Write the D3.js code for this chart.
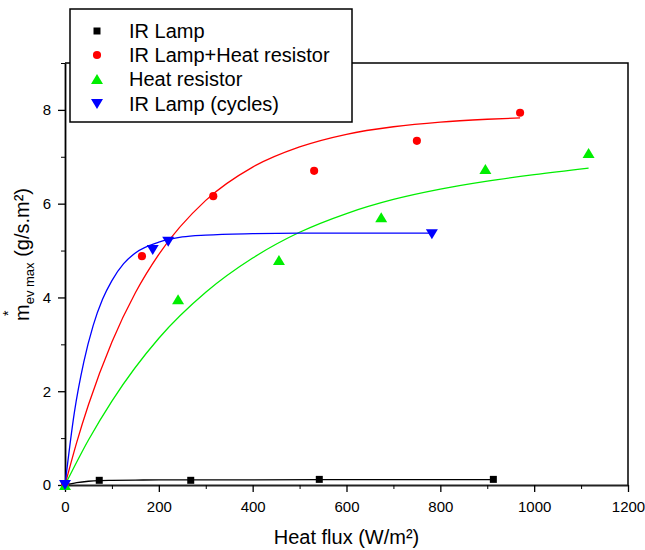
<!DOCTYPE html>
<html lang="en">
<head>
    <meta charset="UTF-8">
    <title>Heat flux vs evaporation rate</title>
    <script src="https://cdnjs.cloudflare.com/ajax/libs/d3/7.8.5/d3.min.js"></script>
    <style>
        body {
            margin: 0;
            background-color: #ffffff;
            font-family: 'Liberation Sans', Arial, sans-serif;
        }
        .tick text {
            font-family: 'Liberation Sans', Arial, sans-serif;
            font-size: 15px;
            fill: #000;
        }
        .fit {
            fill: none;
            stroke-width: 1.3px;
        }
    </style>
</head>
<body>
    <div id="chart"></div>
    <script>
        // measured points
        const irLampX = [0, 73, 268, 542, 913];
        const irLampY = [0, 0.10, 0.10, 0.12, 0.12];
        const irHeatX = [0, 164, 316, 531, 750, 970];
        const irHeatY = [0, 4.88, 6.16, 6.70, 7.34, 7.94];
        const heatResX = [0, 241, 456, 674, 896, 1116];
        const heatResY = [0, 3.96, 4.80, 5.71, 6.74, 7.08];
        const cyclesX = [0, 187, 220, 782];
        const cyclesY = [0, 5.01, 5.19, 5.35];

        // fitted curves
        const irLampFitX = [0, 25, 50, 75, 100, 150, 200, 400, 600, 913];
        const irLampFitY = [0, 0.05, 0.08, 0.095, 0.10, 0.105, 0.11, 0.11, 0.115, 0.115];
        const irHeatFitX = [0, 25, 50, 100, 150, 200, 300, 400, 500, 600, 700, 800, 900, 970];
        const irHeatFitY = [0, 0.91, 1.71, 3.05, 4.10, 4.92, 6.07, 6.78, 7.21, 7.48, 7.64, 7.74, 7.80, 7.83];
        const heatResFitX = [0, 50, 100, 200, 300, 400, 500, 600, 700, 800, 900, 1000, 1116];
        const heatResFitY = [0, 0.96, 1.79, 3.13, 4.11, 4.84, 5.39, 5.79, 6.09, 6.31, 6.48, 6.62, 6.76];
        const cyclesFitX = [0, 20, 40, 60, 80, 100, 125, 150, 200, 250, 300, 400, 500, 782];
        const cyclesFitY = [0, 1.55, 2.62, 3.40, 3.96, 4.36, 4.72, 4.95, 5.18, 5.29, 5.33, 5.36, 5.37, 5.37];

        const seriesNames = ["IR Lamp", "IR Lamp+Heat resistor", "Heat resistor", "IR Lamp (cycles)"];
        const xTicks = [0, 200, 400, 600, 800, 1000, 1200];
        const xMinor = [100, 300, 500, 700, 900, 1100];
        const yTicks = [0, 2, 4, 6, 8];
        const yMinor = [1, 3, 5, 7, 9];

        const width = 645, height = 550;
        const margin = {top: 63, right: 17, bottom: 65, left: 65};

        const svg = d3.select("#chart").append("svg")
            .attr("width", width)
            .attr("height", height);

        const x = d3.scaleLinear().domain([0, 1200]).range([margin.left, width - margin.right]);
        const y = d3.scaleLinear().domain([0, 9]).range([height - margin.bottom, margin.top]);

        const zip = (xs, ys) => xs.map((v, i) => [v, ys[i]]);

        const series = [
            {name: seriesNames[0], color: "#000000", shape: "square", pts: zip(irLampX, irLampY), fit: zip(irLampFitX, irLampFitY)},
            {name: seriesNames[1], color: "#ff0000", shape: "circle", pts: zip(irHeatX, irHeatY), fit: zip(irHeatFitX, irHeatFitY)},
            {name: seriesNames[2], color: "#00ee00", shape: "up", pts: zip(heatResX, heatResY), fit: zip(heatResFitX, heatResFitY)},
            {name: seriesNames[3], color: "#0000ff", shape: "down", pts: zip(cyclesX, cyclesY), fit: zip(cyclesFitX, cyclesFitY)}
        ];

        const shapePath = {
            square: "M-3.5,-3.5H3.5V3.5H-3.5Z",
            circle: d3.symbol(d3.symbolCircle, 52)(),
            up: "M0,-5L6,5L-6,5Z",
            down: "M0,5L6,-5L-6,-5Z"
        };

        // frame
        const x0 = x(0), x1 = x(1200), y0 = y(0), y1 = y(9);
        svg.append("path")
            .attr("d", `M${x0},${y1}H${x1}V${y0}`)
            .attr("fill", "none")
            .attr("stroke", "#000")
            .attr("stroke-width", 1.5);

        // axes
        const xAxis = svg.append("g")
            .attr("transform", `translate(0,${y0})`)
            .call(d3.axisBottom(x).tickValues(xTicks).tickFormat(d3.format("d"))
                .tickSize(7).tickPadding(6).tickSizeOuter(0));
        xAxis.selectAll(".tick line").attr("stroke-width", 1.3);
        xAxis.select(".domain").attr("stroke-width", 2.2).attr("stroke", "#222");
        xAxis.selectAll(".tick text").attr("dy", "0.9em");
        svg.append("g")
            .attr("transform", `translate(0,${y0})`)
            .call(d3.axisBottom(x).tickValues(xMinor).tickSize(4).tickFormat("").tickSizeOuter(0))
            .call(g => g.select(".domain").remove());

        const yAxis = svg.append("g")
            .attr("transform", `translate(${x0},0)`)
            .call(d3.axisLeft(y).tickValues(yTicks).tickSize(7).tickPadding(7).tickSizeOuter(0));
        yAxis.selectAll(".tick line").attr("stroke-width", 1.3);
        yAxis.select(".domain").attr("stroke-width", 1.8);
        svg.append("g")
            .attr("transform", `translate(${x0},0)`)
            .call(d3.axisLeft(y).tickValues(yMinor).tickSize(4).tickFormat("").tickSizeOuter(0))
            .call(g => g.select(".domain").remove());

        // fitted curves
        const line = d3.line()
            .x(d => x(d[0]))
            .y(d => y(d[1]))
            .curve(d3.curveMonotoneX);

        svg.selectAll(".fit")
            .data(series)
            .enter().append("path")
            .attr("class", "fit")
            .attr("stroke", d => d.color)
            .attr("d", d => line(d.fit));

        // markers
        series.forEach(s => {
            svg.selectAll(null)
                .data(s.pts)
                .enter().append("path")
                .attr("transform", d => `translate(${x(d[0])},${y(d[1])})`)
                .attr("d", shapePath[s.shape])
                .attr("fill", s.color);
        });

        // legend
        const legend = svg.append("g");
        legend.append("rect")
            .attr("x", 70).attr("y", 9)
            .attr("width", 282).attr("height", 113)
            .attr("fill", "#fff")
            .attr("stroke", "#000")
            .attr("stroke-width", 1.5);
        const rowY = [31, 55, 79, 104];
        const item = legend.selectAll(".item")
            .data(series)
            .enter().append("g")
            .attr("transform", (d, i) => `translate(97,${rowY[i]})`);
        item.append("path")
            .attr("d", d => shapePath[d.shape])
            .attr("fill", d => d.color);
        item.append("text")
            .attr("x", 32)
            .attr("dy", "0.36em")
            .style("font-size", "20px")
            .text(d => d.name);

        // axis titles
        svg.append("text")
            .attr("x", (x0 + x1) / 2)
            .attr("y", 544)
            .attr("text-anchor", "middle")
            .style("font-size", "20px")
            .text("Heat flux (W/m²)");

        const yt = svg.append("g")
            .attr("transform", "translate(29,321) rotate(-90)");
        const ylab = yt.append("text")
            .style("font-size", "20px");
        ylab.append("tspan").text("m");
        ylab.append("tspan").attr("dy", 5).style("font-size", "13px").text("ev max");
        ylab.append("tspan").attr("dy", -5).text(" (g/s.m²)");
        yt.append("text")
            .attr("x", 5)
            .attr("y", -16)
            .style("font-size", "14px")
            .text("*");
    </script>
</body>
</html>
